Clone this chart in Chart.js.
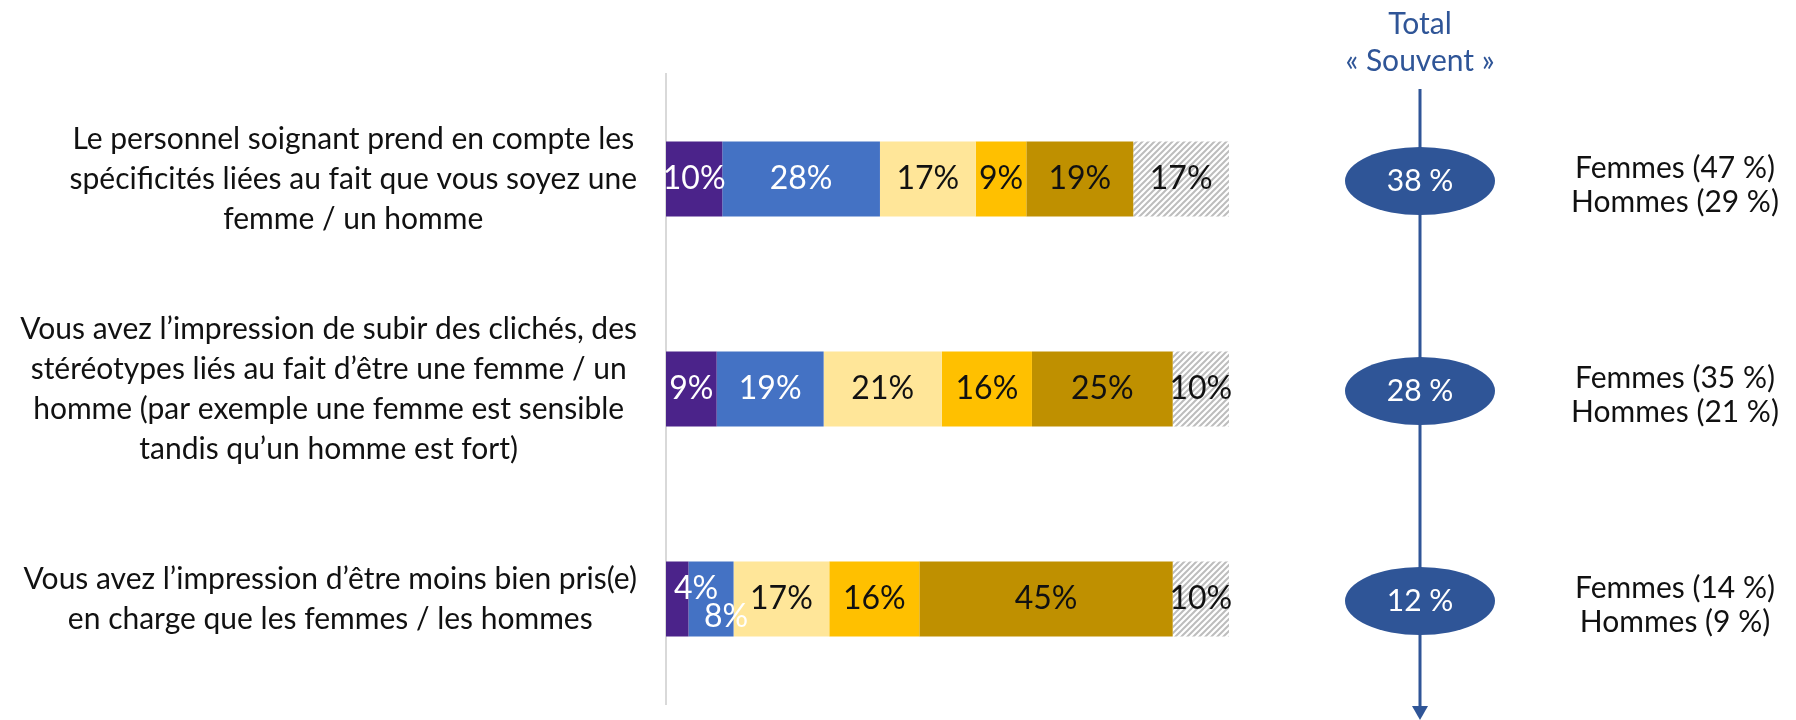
<!DOCTYPE html>
<html>
<head>
<meta charset="utf-8">
<script src="https://cdn.jsdelivr.net/npm/chart.js@4/dist/chart.umd.min.js"></script>
<style>
  html, body { margin: 0; padding: 0; background: #fff; }
  #wrap { width: 1796px; height: 720px; }
</style>
</head>
<body>
<div id="wrap"><canvas id="chart" width="1796" height="720"></canvas></div>
<script>
// Questions (one per bar, already split into lines)
const categories = [
    ['Le personnel soignant prend en compte les', 'spécificités liées au fait que vous soyez une', 'femme / un homme'],
    ['Vous avez l\u2019impression de subir des clichés, des', 'stéréotypes liés au fait d\u2019être une femme / un', 'homme (par exemple une femme est sensible', 'tandis qu\u2019un homme est fort)'],
    ['Vous avez l\u2019impression d\u2019être moins bien pris(e)', 'en charge que les femmes / les hommes']
];

const seriesNames = ['Très souvent', 'Assez souvent', 'Parfois', 'Rarement', 'Jamais', 'Non concerné(e)'];
const tresSouvent = [10, 9, 4];
const assezSouvent = [28, 19, 8];
const parfois = [17, 21, 17];
const rarement = [9, 16, 16];
const jamais = [19, 25, 45];
const nonConcerne = [17, 10, 10];

const totalSouvent = [38, 28, 12];
const femmes = [47, 35, 14];
const hommes = [29, 21, 9];

const FONT = 'Lato, "Noto Sans", sans-serif';
const DARK_BLUE = '#2F5597';

// grey hatch for the last series
function makeHatch() {
    const c = document.createElement('canvas');
    c.width = 6;
    c.height = 6;
    const g = c.getContext('2d');
    g.fillStyle = '#ffffff';
    g.fillRect(0, 0, 6, 6);
    g.strokeStyle = '#BDBDBD';
    g.lineWidth = 2;
    g.beginPath();
    g.moveTo(-3, 3); g.lineTo(3, -3);
    g.moveTo(0, 6); g.lineTo(6, 0);
    g.moveTo(3, 9); g.lineTo(9, 3);
    g.stroke();
    return g.createPattern(c, 'repeat');
}

const ctx = document.getElementById('chart').getContext('2d');
const hatch = makeHatch();

const seriesData = [tresSouvent, assezSouvent, parfois, rarement, jamais, nonConcerne];
const seriesColors = ['#4B238A', '#4472C4', '#FFE699', '#FFC000', '#BF9000', hatch];
const labelColors = ['#ffffff', '#ffffff', '#111111', '#111111', '#111111', '#111111'];

// bar value labels, question labels and the "Total Souvent" column
const annotations = {
    id: 'annotations',
    afterDatasetsDraw(chart) {
        const c = chart.ctx;
        const yScale = chart.scales.y;
        c.save();

        // segment labels
        c.font = '32px ' + FONT;
        c.textAlign = 'center';
        c.textBaseline = 'middle';
        categories.forEach((cat, i) => {
            let shiftNext = false;
            chart.data.datasets.forEach((ds, d) => {
                const bar = chart.getDatasetMeta(d).data[i];
                const w = Math.abs(bar.x - bar.base);
                const txt = ds.data[i] + '%';
                const tw = c.measureText(txt).width;
                let x = (bar.x + bar.base) / 2;
                let y = bar.y;
                if (shiftNext) {
                    x += 15;
                    y += 18;
                    shiftNext = false;
                } else if (w < 30) {
                    x = Math.min(bar.base, bar.x) + 8 + tw / 2;
                    y -= 10;
                    shiftNext = true;
                }
                c.fillStyle = labelColors[d];
                c.fillText(txt, x, y);
            });
        });

        // question labels, centred block ending just left of the axis
        c.font = '30px ' + FONT;
        c.fillStyle = '#111111';
        const right = 637;
        const lineH = 40;
        categories.forEach((lines, i) => {
            const maxW = Math.max(...lines.map(l => c.measureText(l).width));
            const cx = right - maxW / 2;
            const cy = yScale.getPixelForValue(i);
            const y0 = cy - (lines.length - 1) * lineH / 2;
            lines.forEach((l, k) => c.fillText(l, cx, y0 + k * lineH));
        });

        // total "Souvent" column
        const colX = 1420;
        c.strokeStyle = DARK_BLUE;
        c.fillStyle = DARK_BLUE;
        c.lineWidth = 3;
        c.beginPath();
        c.moveTo(colX, 89);
        c.lineTo(colX, 708);
        c.stroke();
        c.beginPath();
        c.moveTo(colX - 8, 706);
        c.lineTo(colX + 8, 706);
        c.lineTo(colX, 720);
        c.closePath();
        c.fill();

        c.font = '30px ' + FONT;
        c.fillText('Total', colX, 24);
        c.fillText('\u00AB Souvent \u00BB', colX, 61);

        totalSouvent.forEach((v, i) => {
            const cy = yScale.getPixelForValue(i) + 2;
            c.fillStyle = DARK_BLUE;
            c.beginPath();
            c.ellipse(colX, cy, 75, 34, 0, 0, Math.PI * 2);
            c.fill();
            c.fillStyle = '#ffffff';
            c.font = '30px ' + FONT;
            c.fillText(v + ' %', colX, cy);

            c.fillStyle = '#111111';
            c.fillText('Femmes (' + femmes[i] + ' %)', 1675, cy - 13);
            c.fillText('Hommes (' + hommes[i] + ' %)', 1675, cy + 21);
        });

        c.restore();
    }
};

new Chart(ctx, {
    type: 'bar',
    data: {
        labels: categories,
        datasets: seriesData.map((values, d) => ({
            label: seriesNames[d],
            data: values,
            backgroundColor: seriesColors[d],
            borderWidth: 0,
            barPercentage: 1,
            categoryPercentage: 0.357
        }))
    },
    options: {
        indexAxis: 'y',
        responsive: false,
        animation: false,
        devicePixelRatio: 1,
        layout: {
            padding: { left: 666, right: 567, top: 74, bottom: 16 }
        },
        plugins: {
            legend: { display: false },
            tooltip: { enabled: false }
        },
        scales: {
            x: {
                stacked: true,
                min: 0,
                max: 100,
                display: false
            },
            y: {
                stacked: true,
                ticks: { display: false },
                grid: { display: false, drawTicks: false },
                border: { display: true, color: '#D9D9D9', width: 2 }
            }
        }
    },
    plugins: [annotations]
});
</script>
</body>
</html>
